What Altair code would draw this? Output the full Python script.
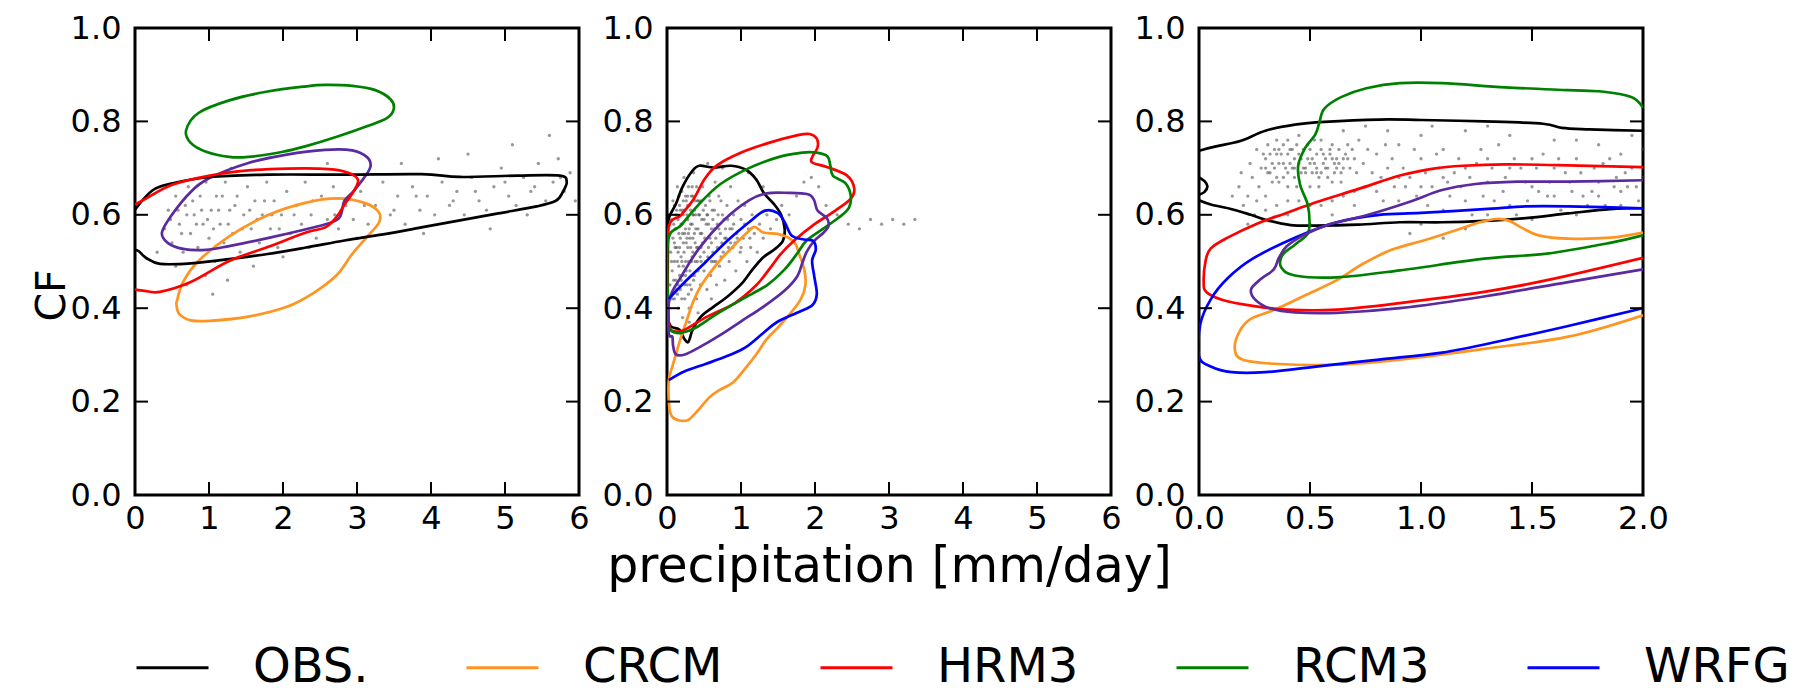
import altair as alt
import pandas as pd

# ---------------- categories / styling lists ----------------
MODELS = ["OBS.", "CRCM", "HRM3", "RCM3", "WRFG", "MM5I"]
COLORS = ["#000000", "#ff9420", "#ff0000", "#008000", "#0000ff", "#5a2a9e"]
LEGEND_MODELS = ["OBS.", "CRCM", "HRM3", "RCM3", "WRFG"]

Y_TICKS = [0.0, 0.2, 0.4, 0.6, 0.8, 1.0]
X_TICKS_A = [0, 1, 2, 3, 4, 5, 6]
X_TICKS_B = [0.0, 0.5, 1.0, 1.5, 2.0]

# ---------------- panel 1 contours ----------------
P1_OBS_X = [0, 0.234, 0.494, 1.013, 1.792, 2.831, 3.870, 4.390, 5.169, 5.740, 5.834, 5.782, 5.688, 5.429, 4.909, 4.390, 3.870, 3.351, 2.831, 2.312, 1.792, 1.273, 0.753, 0.338, 0.156, 0.052, 0]
P1_OBS_Y = [0.611, 0.652, 0.667, 0.681, 0.686, 0.686, 0.687, 0.681, 0.684, 0.684, 0.671, 0.649, 0.630, 0.618, 0.603, 0.588, 0.573, 0.558, 0.545, 0.530, 0.516, 0.505, 0.496, 0.495, 0.507, 0.522, 0.525]
P1_CRCM_X = [0.571, 0.649, 0.857, 1.273, 1.792, 2.312, 2.727, 3.091, 3.288, 3.299, 3.143, 2.935, 2.727, 2.416, 2.052, 1.532, 1.013, 0.753, 0.597, 0.561]
P1_CRCM_Y = [0.418, 0.456, 0.501, 0.554, 0.599, 0.626, 0.635, 0.626, 0.607, 0.584, 0.554, 0.516, 0.471, 0.433, 0.403, 0.382, 0.373, 0.374, 0.388, 0.407]
P1_HRM3_X = [0, 0.13, 0.494, 1.013, 1.532, 2.052, 2.623, 2.883, 3.013, 2.961, 2.831, 2.727, 2.571, 2.312, 1.792, 1.273, 0.753, 0.338, 0.13, 0]
P1_HRM3_Y = [0.622, 0.633, 0.664, 0.684, 0.695, 0.699, 0.698, 0.69, 0.675, 0.652, 0.622, 0.596, 0.573, 0.562, 0.531, 0.501, 0.456, 0.435, 0.437, 0.44]
P1_RCM3_X = [0.691, 0.857, 1.273, 1.792, 2.312, 2.571, 2.935, 3.247, 3.455, 3.496, 3.403, 3.143, 2.727, 2.312, 2.0, 1.532, 1.273, 0.961, 0.753]
P1_RCM3_Y = [0.781, 0.818, 0.845, 0.864, 0.875, 0.878, 0.876, 0.867, 0.847, 0.826, 0.807, 0.790, 0.767, 0.747, 0.735, 0.724, 0.724, 0.735, 0.754]
P1_MM5I_X = [0.364, 0.494, 0.753, 1.013, 1.532, 2.052, 2.571, 2.935, 3.132, 3.184, 3.117, 2.961, 2.831, 2.795, 2.753, 2.623, 2.312, 1.792, 1.273, 0.961, 0.649, 0.442]
P1_MM5I_Y = [0.562, 0.599, 0.649, 0.679, 0.711, 0.729, 0.739, 0.738, 0.724, 0.705, 0.684, 0.652, 0.630, 0.607, 0.592, 0.582, 0.569, 0.550, 0.533, 0.525, 0.527, 0.540]

# ---------------- panel 2 contours ----------------
P2_OBS_X = [0.024, 0.120, 0.202, 0.328, 0.434, 0.627, 0.867, 1.060, 1.205, 1.311, 1.446, 1.542, 1.590, 1.566, 1.446, 1.301, 1.157, 1.012, 0.819, 0.627, 0.458, 0.347, 0.289, 0.231, 0.169, 0.048, 0.014, 0.010, 0.014]
P2_OBS_Y = [0.593, 0.623, 0.657, 0.691, 0.705, 0.701, 0.705, 0.697, 0.676, 0.646, 0.623, 0.600, 0.570, 0.544, 0.525, 0.509, 0.483, 0.453, 0.425, 0.403, 0.382, 0.354, 0.328, 0.335, 0.354, 0.362, 0.388, 0.472, 0.562]
P2_CRCM_X = [1.181, 1.301, 1.494, 1.639, 1.735, 1.783, 1.855, 1.870, 1.807, 1.663, 1.494, 1.340, 1.205, 1.036, 0.892, 0.723, 0.578, 0.434, 0.289, 0.154, 0.063, 0.029, 0.024, 0.072, 0.120, 0.183, 0.265, 0.337, 0.434, 0.578, 0.747, 0.940, 1.084]
P2_CRCM_Y = [0.574, 0.562, 0.559, 0.551, 0.538, 0.517, 0.483, 0.449, 0.419, 0.388, 0.358, 0.332, 0.301, 0.267, 0.241, 0.226, 0.210, 0.184, 0.161, 0.160, 0.169, 0.192, 0.245, 0.275, 0.301, 0.335, 0.373, 0.407, 0.441, 0.475, 0.508, 0.540, 0.562]
P2_HRM3_X = [0.014, 0.193, 0.361, 0.506, 0.675, 1.012, 1.398, 1.783, 1.928, 2.024, 2.034, 1.966, 1.961, 2.169, 2.434, 2.530, 2.482, 2.265, 1.976, 1.735, 1.542, 1.398, 1.205, 0.916, 0.530, 0.241, 0.120, 0.039, 0.014]
P2_HRM3_Y = [0.566, 0.600, 0.634, 0.676, 0.706, 0.734, 0.755, 0.771, 0.773, 0.763, 0.744, 0.725, 0.712, 0.702, 0.684, 0.657, 0.634, 0.608, 0.578, 0.547, 0.517, 0.487, 0.449, 0.411, 0.381, 0.354, 0.350, 0.358, 0.40]
P2_RCM3_X = [0.014, 0.193, 0.434, 0.723, 1.108, 1.494, 1.831, 2.024, 2.169, 2.207, 2.241, 2.410, 2.482, 2.458, 2.313, 2.072, 1.880, 1.759, 1.590, 1.349, 1.012, 0.675, 0.386, 0.193, 0.072, 0.024, 0.014]
P2_RCM3_Y = [0.544, 0.578, 0.623, 0.666, 0.700, 0.723, 0.733, 0.733, 0.725, 0.706, 0.684, 0.668, 0.642, 0.615, 0.593, 0.566, 0.544, 0.517, 0.483, 0.449, 0.419, 0.388, 0.358, 0.347, 0.350, 0.362, 0.40]
P2_WRFG_X = [0.024, 0.241, 0.530, 0.819, 1.108, 1.325, 1.494, 1.590, 1.687, 1.855, 1.976, 2.010, 1.961, 1.990, 2.024, 1.966, 1.783, 1.494, 1.301, 1.060, 0.819, 0.530, 0.241, 0.024]
P2_WRFG_Y = [0.420, 0.456, 0.500, 0.545, 0.584, 0.609, 0.604, 0.584, 0.555, 0.547, 0.544, 0.525, 0.502, 0.468, 0.430, 0.407, 0.392, 0.371, 0.347, 0.316, 0.298, 0.281, 0.265, 0.246]
P2_MM5I_X = [0.034, 0.193, 0.434, 0.771, 1.108, 1.349, 1.639, 1.904, 1.986, 2.034, 2.159, 2.183, 2.111, 1.990, 1.889, 1.831, 1.759, 1.590, 1.301, 1.012, 0.723, 0.434, 0.241, 0.120, 0.082, 0.072, 0.024]
P2_MM5I_Y = [0.419, 0.468, 0.528, 0.589, 0.631, 0.646, 0.647, 0.644, 0.632, 0.609, 0.593, 0.576, 0.561, 0.544, 0.521, 0.498, 0.468, 0.438, 0.403, 0.373, 0.343, 0.316, 0.301, 0.301, 0.320, 0.339, 0.347]

# ---------------- panel 3 contours ----------------
P3_OBS_TOP_X = [0, 0.072, 0.186, 0.299, 0.432, 0.564, 0.811, 1.0, 1.284, 1.549, 1.634, 1.758, 2.0]
P3_OBS_TOP_Y = [0.737, 0.746, 0.758, 0.780, 0.793, 0.799, 0.804, 0.803, 0.800, 0.795, 0.786, 0.783, 0.780]
P3_OBS_BOT_X = [2.0, 1.852, 1.663, 1.473, 1.284, 1.095, 0.905, 0.716, 0.527, 0.413, 0.318, 0.233, 0.148, 0.053, 0]
P3_OBS_BOT_Y = [0.614, 0.612, 0.603, 0.593, 0.587, 0.584, 0.584, 0.579, 0.577, 0.578, 0.587, 0.600, 0.612, 0.622, 0.631]
P3_OBS_LOOP_X = [0, 0.025, 0.038, 0.025, 0]
P3_OBS_LOOP_Y = [0.680, 0.672, 0.661, 0.649, 0.643]
P3_CRCM_X = [2.0, 1.852, 1.663, 1.530, 1.455, 1.398, 1.341, 1.265, 1.170, 1.019, 0.867, 0.735, 0.621, 0.489, 0.337, 0.233, 0.182, 0.161, 0.195, 0.337, 0.621, 0.905, 1.284, 1.663, 2.0]
P3_CRCM_Y = [0.562, 0.551, 0.549, 0.556, 0.572, 0.587, 0.591, 0.584, 0.569, 0.546, 0.525, 0.494, 0.460, 0.430, 0.396, 0.377, 0.350, 0.313, 0.290, 0.281, 0.279, 0.290, 0.313, 0.339, 0.385]
P3_HRM3_X = [2.0, 1.663, 1.379, 1.189, 1.057, 0.905, 0.716, 0.527, 0.394, 0.261, 0.129, 0.053, 0.030, 0.021, 0.034, 0.110, 0.242, 0.394, 0.621, 0.905, 1.284, 1.568, 2.0]
P3_HRM3_Y = [0.702, 0.706, 0.708, 0.705, 0.699, 0.684, 0.655, 0.627, 0.604, 0.581, 0.551, 0.528, 0.502, 0.456, 0.434, 0.417, 0.405, 0.397, 0.397, 0.411, 0.435, 0.460, 0.508]
P3_RCM3_X = [2.0, 1.947, 1.814, 1.663, 1.379, 1.095, 0.905, 0.754, 0.640, 0.564, 0.542, 0.523, 0.479, 0.447, 0.455, 0.489, 0.498, 0.489, 0.432, 0.375, 0.371, 0.432, 0.621, 0.905, 1.284, 1.568, 1.852, 2.0]
P3_RCM3_Y = [0.829, 0.852, 0.864, 0.867, 0.873, 0.882, 0.882, 0.871, 0.852, 0.827, 0.797, 0.771, 0.744, 0.706, 0.665, 0.623, 0.585, 0.559, 0.536, 0.513, 0.487, 0.470, 0.466, 0.481, 0.506, 0.517, 0.540, 0.556]
P3_WRFG_X = [2.0, 1.663, 1.473, 1.284, 1.0, 0.811, 0.621, 0.432, 0.242, 0.129, 0.053, 0.006, 0, 0.053, 0.148, 0.299, 0.527, 0.811, 1.095, 1.379, 1.663, 2.0]
P3_WRFG_Y = [0.614, 0.618, 0.618, 0.612, 0.604, 0.600, 0.584, 0.551, 0.506, 0.464, 0.419, 0.366, 0.297, 0.275, 0.263, 0.263, 0.275, 0.290, 0.305, 0.332, 0.362, 0.400]
P3_MM5I_X = [2.0, 1.663, 1.436, 1.246, 1.095, 0.943, 0.754, 0.583, 0.470, 0.394, 0.360, 0.337, 0.280, 0.235, 0.252, 0.318, 0.432, 0.621, 0.905, 1.284, 1.663, 2.0]
P3_MM5I_Y = [0.674, 0.671, 0.671, 0.666, 0.653, 0.627, 0.599, 0.579, 0.556, 0.532, 0.508, 0.483, 0.463, 0.441, 0.419, 0.400, 0.391, 0.390, 0.400, 0.425, 0.456, 0.483]

# ---------------- observed scatter (read approximately) ----------------
SCAT1 = [(0.40,0.57),(0.45,0.61),(0.5,0.54),(0.55,0.64),(0.6,0.58),(0.65,0.52),(0.68,0.62),(0.72,0.66),(0.75,0.56),(0.8,0.6),(0.85,0.53),(0.88,0.64),(0.92,0.58),(0.96,0.67),(1.0,0.55),(1.03,0.61),(1.08,0.5),(1.1,0.64),(1.15,0.58),(1.2,0.54),(1.22,0.67),(1.28,0.61),(1.32,0.56),(1.38,0.64),(1.42,0.52),(1.47,0.6),(1.52,0.66),(1.57,0.57),(1.62,0.63),(1.68,0.54),(1.72,0.6),(1.78,0.67),(1.83,0.57),(1.88,0.63),(1.93,0.53),(1.98,0.6),(2.05,0.65),(2.1,0.56),(2.18,0.62),(2.25,0.58),(2.3,0.67),(2.38,0.6),(2.45,0.55),(2.52,0.64),(2.6,0.59),(2.68,0.66),(2.75,0.57),(2.85,0.62),(2.95,0.59),(3.05,0.65),(3.15,0.58),(3.25,0.62),(3.35,0.67),(3.45,0.6),(3.55,0.64),(3.65,0.58),(3.75,0.66),(3.85,0.61),(3.95,0.64),(4.05,0.6),(4.15,0.67),(4.25,0.62),(4.35,0.65),(4.45,0.6),(4.55,0.68),(4.65,0.63),(4.75,0.61),(4.85,0.66),(4.95,0.7),(5.05,0.64),(5.15,0.62),(5.25,0.68),(5.35,0.65),(5.45,0.71),(5.55,0.63),(5.65,0.67),(5.72,0.72),(5.8,0.65),(5.88,0.69),(5.95,0.63),(4.5,0.73),(4.1,0.72),(5.1,0.75),(3.6,0.71),(0.95,0.47),(1.25,0.46),(1.05,0.43),(1.6,0.49),(2.0,0.51),(2.35,0.53),(0.3,0.52),(0.55,0.49),(3.0,0.55),(1.3,0.7),(2.6,0.71),(5.6,0.77),(4.8,0.57),(5.3,0.6),(3.9,0.56),(0.7,0.45),
         (0.48,0.59),(0.58,0.61),(0.63,0.56),(0.7,0.6),(0.78,0.63),(0.83,0.58),(0.9,0.61),(0.98,0.59),(1.06,0.57),(1.13,0.61),(1.18,0.64),(1.26,0.58),(1.35,0.62),(1.45,0.57),(1.55,0.61),(1.65,0.59),(1.75,0.63),(1.85,0.6),(1.95,0.57),(2.15,0.6),(2.4,0.63),(2.7,0.6),(3.1,0.62),(3.5,0.61),(3.8,0.64),(4.3,0.63),(4.6,0.65),(5.0,0.67),(5.4,0.66),(5.75,0.68)]
SCAT2 = [(0.04,0.45),(0.05,0.52),(0.05,0.59),(0.07,0.48),(0.08,0.55),(0.08,0.63),(0.1,0.42),(0.1,0.5),(0.11,0.57),(0.12,0.46),(0.13,0.53),(0.13,0.61),(0.14,0.66),(0.15,0.4),(0.16,0.49),(0.16,0.56),(0.17,0.62),(0.18,0.44),(0.19,0.51),(0.19,0.58),(0.2,0.65),(0.21,0.38),(0.21,0.47),(0.22,0.54),(0.22,0.6),(0.23,0.68),(0.24,0.42),(0.25,0.5),(0.25,0.57),(0.26,0.63),(0.27,0.45),(0.28,0.53),(0.28,0.59),(0.29,0.66),(0.3,0.4),(0.31,0.48),(0.31,0.55),(0.32,0.61),(0.33,0.44),(0.34,0.51),(0.34,0.58),(0.35,0.64),(0.36,0.69),(0.37,0.47),(0.38,0.54),(0.39,0.6),(0.4,0.42),(0.41,0.5),(0.42,0.57),(0.43,0.63),(0.45,0.45),(0.46,0.53),(0.47,0.59),(0.48,0.66),(0.5,0.48),(0.51,0.55),(0.52,0.62),(0.54,0.44),(0.55,0.51),(0.56,0.58),(0.57,0.64),(0.59,0.47),(0.6,0.54),(0.61,0.61),(0.63,0.5),(0.64,0.57),(0.65,0.67),(0.67,0.45),(0.68,0.53),(0.69,0.6),(0.71,0.49),(0.72,0.56),(0.73,0.63),(0.76,0.52),(0.77,0.59),(0.78,0.46),(0.8,0.55),(0.81,0.62),(0.84,0.5),(0.85,0.57),(0.86,0.66),(0.89,0.53),(0.9,0.6),(0.93,0.48),(0.94,0.56),(0.96,0.63),(0.99,0.52),(1.0,0.59),(1.03,0.55),(1.05,0.62),(1.08,0.5),(1.1,0.57),(1.13,0.53),(1.15,0.6),(1.18,0.56),(1.22,0.52),(1.25,0.58),(1.3,0.55),(1.35,0.6),(1.4,0.57),(1.48,0.59),(1.55,0.62),(1.65,0.6),(1.75,0.64),(1.85,0.67),(1.95,0.68),(2.05,0.66),(2.15,0.62),(2.3,0.6),(2.45,0.58),(2.6,0.57),(2.75,0.59),(2.9,0.58),(3.05,0.59),(3.2,0.58),(3.35,0.59),(1.3,0.66),(1.1,0.69),(0.75,0.7),(0.55,0.71),(0.2,0.35),(0.3,0.37),(0.42,0.39),(0.6,0.42),(0.15,0.45),(0.25,0.47),(0.35,0.52),(0.45,0.56),(0.2,0.58),(0.3,0.62),(0.4,0.66),(0.12,0.6),(0.27,0.55),(0.37,0.61),
         (0.06,0.5),(0.09,0.58),(0.11,0.53),(0.14,0.5),(0.15,0.59),(0.17,0.53),(0.18,0.61),(0.2,0.5),(0.21,0.56),(0.23,0.52),(0.24,0.61),(0.26,0.54),(0.27,0.6),(0.29,0.5),(0.3,0.57),(0.32,0.53),(0.33,0.64),(0.35,0.55),(0.36,0.6),(0.38,0.5),(0.39,0.57),(0.41,0.63),(0.42,0.53),(0.44,0.6),(0.46,0.5),(0.47,0.56),(0.49,0.61),(0.5,0.52),(0.53,0.58),(0.55,0.6),(0.58,0.55),(0.6,0.5),(0.62,0.59),(0.66,0.55),(0.7,0.57),(0.74,0.54),(0.79,0.57),(0.83,0.53),(0.88,0.57),(0.92,0.54),(0.14,0.43),(0.19,0.46),(0.24,0.45),(0.29,0.43),(0.34,0.47),(0.1,0.62),(0.16,0.64),(0.22,0.63),(0.28,0.64),(0.34,0.66),
         (0.07,0.42),(0.09,0.46),(0.1,0.54),(0.12,0.57),(0.13,0.44),(0.15,0.52),(0.17,0.47),(0.18,0.55),(0.2,0.42),(0.21,0.61),(0.22,0.49),(0.24,0.56),(0.25,0.64),(0.26,0.48),(0.28,0.62),(0.29,0.56),(0.31,0.45),(0.32,0.58),(0.33,0.5),(0.35,0.6),(0.36,0.46),(0.37,0.56),(0.38,0.63),(0.4,0.53),(0.42,0.48),(0.43,0.6),(0.45,0.51),(0.46,0.63),(0.48,0.54),(0.5,0.59),(0.52,0.5),(0.54,0.6),(0.56,0.53),(0.58,0.63),(0.6,0.57),(0.62,0.52),(0.64,0.61),(0.66,0.5),(0.68,0.58),(0.7,0.64),(0.73,0.51),(0.75,0.6),(0.78,0.55),(0.82,0.59),(0.86,0.54),(0.9,0.58),(0.95,0.55),(1.0,0.53),(1.05,0.58),(1.12,0.55)]
SCAT3 = [(0.3,0.72),(0.32,0.69),(0.34,0.74),(0.36,0.71),(0.38,0.68),(0.4,0.73),(0.42,0.7),(0.44,0.75),(0.46,0.72),(0.48,0.69),(0.5,0.74),(0.52,0.71),(0.54,0.68),(0.56,0.73),(0.58,0.7),(0.6,0.75),(0.62,0.72),(0.64,0.69),(0.66,0.73),(0.68,0.7),(0.7,0.72),(0.35,0.76),(0.45,0.77),(0.55,0.76),(0.4,0.66),(0.5,0.66),(0.6,0.67),(0.28,0.7),(0.26,0.74),(0.24,0.68),(0.22,0.64),(0.2,0.62),(0.25,0.6),(0.3,0.64),(0.35,0.62),(0.45,0.63),(0.55,0.62),(0.65,0.64),(0.75,0.66),(0.72,0.76),(0.8,0.73),(0.85,0.7),(0.9,0.75),(0.95,0.68),(1.0,0.72),(1.05,0.66),(1.1,0.74),(1.15,0.69),(1.2,0.63),(1.25,0.71),(1.3,0.67),(1.35,0.75),(1.4,0.62),(1.45,0.7),(1.5,0.66),(1.55,0.73),(1.6,0.64),(1.65,0.69),(1.7,0.76),(1.75,0.62),(1.8,0.67),(1.85,0.72),(1.9,0.65),(1.95,0.7),(2.0,0.74),(0.8,0.6),(0.9,0.63),(1.0,0.58),(1.1,0.61),(1.2,0.57),(1.3,0.6),(1.5,0.59),(1.7,0.6),(1.9,0.62),(0.85,0.78),(1.0,0.77),(1.2,0.78),(1.4,0.77),(1.6,0.76),(1.8,0.75),(1.95,0.77),(0.7,0.62),(0.6,0.6),(0.5,0.58),(0.4,0.6),(0.95,0.56),(1.1,0.55),(0.78,0.69),(0.88,0.66),(0.98,0.64),(1.08,0.7),(1.18,0.66),(1.28,0.64),(1.38,0.68),(1.48,0.63),(1.58,0.67),(1.68,0.65),(1.78,0.7),(1.88,0.68),(1.98,0.63),(0.33,0.67),(0.43,0.68),(0.53,0.7),(0.63,0.71),(0.37,0.73),(0.47,0.74),(0.57,0.72),(0.67,0.75),(0.31,0.75),(0.41,0.71),(0.51,0.69),(0.61,0.69),(0.39,0.7),(0.49,0.72),(0.59,0.74),(0.29,0.73),(0.65,0.78),(0.75,0.79),(1.05,0.79),(1.3,0.79),(0.18,0.66),(0.22,0.58),(0.15,0.64),(0.33,0.71),(0.43,0.72),(0.53,0.73),(0.38,0.75),(0.48,0.7),(0.58,0.68),(0.36,0.67),(0.46,0.69),(0.56,0.71),(0.42,0.74),(0.52,0.76),(0.62,0.7),
         (0.74,0.71),(0.76,0.74),(0.82,0.68),(0.84,0.75),(0.87,0.72),(0.92,0.7),(0.97,0.74),(1.02,0.69),(1.07,0.73),(1.12,0.67),(1.17,0.72),(1.22,0.68),(1.27,0.74),(1.32,0.7),(1.37,0.65),(1.42,0.72),(1.47,0.67),(1.52,0.7),(1.57,0.64),(1.62,0.72),(1.67,0.67),(1.72,0.69),(1.77,0.65),(1.82,0.71),(1.87,0.66),(1.92,0.69),(1.97,0.66),(0.83,0.63),(0.93,0.66),(1.03,0.62),(1.13,0.64),(1.23,0.6),(1.33,0.63),(1.43,0.6),(1.53,0.65),(1.63,0.61),(1.73,0.64),(1.83,0.62),(1.93,0.66),(0.27,0.66),(0.23,0.71),(0.19,0.69),(0.31,0.69),(0.35,0.73),(0.45,0.71),(0.55,0.69),(0.65,0.72),(0.4,0.76),(0.5,0.71),(0.6,0.72),
         (0.3,0.7),(0.32,0.73),(0.34,0.7),(0.36,0.74),(0.38,0.71),(0.4,0.69),(0.41,0.74),(0.43,0.7),(0.45,0.73),(0.47,0.7),(0.49,0.75),(0.51,0.72),(0.53,0.69),(0.55,0.74),(0.57,0.7),(0.59,0.73),(0.61,0.71),(0.63,0.74),(0.65,0.7),(0.67,0.72),(0.69,0.74),(0.71,0.69),(0.35,0.68),(0.44,0.66),(0.54,0.66),(0.64,0.67),(0.26,0.63),(0.3,0.61),(0.4,0.63),(0.5,0.62),(0.6,0.63),(0.7,0.65),(0.8,0.65),(0.9,0.68),(1.0,0.66),(1.1,0.68),(1.2,0.7),(1.3,0.72),(1.4,0.7),(1.5,0.72),(1.6,0.7),(1.7,0.72),(1.8,0.64),(1.9,0.73),(2.0,0.68)]

# (panel, model, path id, closed?, xs, ys)
CONTOURS = [
    (1, "OBS.", "p1obs", False, P1_OBS_X, P1_OBS_Y),
    (1, "CRCM", "p1crcm", True, P1_CRCM_X, P1_CRCM_Y),
    (1, "HRM3", "p1hrm3", False, P1_HRM3_X, P1_HRM3_Y),
    (1, "RCM3", "p1rcm3", True, P1_RCM3_X, P1_RCM3_Y),
    (1, "MM5I", "p1mm5i", True, P1_MM5I_X, P1_MM5I_Y),
    (2, "OBS.", "p2obs", True, P2_OBS_X, P2_OBS_Y),
    (2, "CRCM", "p2crcm", True, P2_CRCM_X, P2_CRCM_Y),
    (2, "HRM3", "p2hrm3", True, P2_HRM3_X, P2_HRM3_Y),
    (2, "RCM3", "p2rcm3", True, P2_RCM3_X, P2_RCM3_Y),
    (2, "WRFG", "p2wrfg", False, P2_WRFG_X, P2_WRFG_Y),
    (2, "MM5I", "p2mm5i", True, P2_MM5I_X, P2_MM5I_Y),
    (3, "OBS.", "p3obs_t", False, P3_OBS_TOP_X, P3_OBS_TOP_Y),
    (3, "OBS.", "p3obs_b", False, P3_OBS_BOT_X, P3_OBS_BOT_Y),
    (3, "OBS.", "p3obs_l", False, P3_OBS_LOOP_X, P3_OBS_LOOP_Y),
    (3, "CRCM", "p3crcm", False, P3_CRCM_X, P3_CRCM_Y),
    (3, "HRM3", "p3hrm3", False, P3_HRM3_X, P3_HRM3_Y),
    (3, "RCM3", "p3rcm3", False, P3_RCM3_X, P3_RCM3_Y),
    (3, "WRFG", "p3wrfg", False, P3_WRFG_X, P3_WRFG_Y),
    (3, "MM5I", "p3mm5i", False, P3_MM5I_X, P3_MM5I_Y),
]

W, H = 444, 467
TICK = 13
FONT = "DejaVu Sans"


def contour_frame(panel):
    rows = []
    for pnl, model, pid, closed, xs, ys in CONTOURS:
        if pnl != panel:
            continue
        for i, (xv, yv) in enumerate(zip(xs, ys)):
            rows.append({"model": model, "path": pid, "closed": closed,
                         "order": i, "x": xv, "y": yv})
    return pd.DataFrame(rows)


LEGEND = alt.Legend(
    values=LEGEND_MODELS, orient="bottom", offset=37, padding=0,
    direction="horizontal", columns=5, title=None,
    symbolType="stroke", symbolSize=5184, symbolStrokeWidth=3,
    labelFont=FONT, labelFontSize=48, labelColor="black",
    labelOffset=43, columnPadding=91, labelLimit=600,
)


def make_panel(panel, xmax, xticks, xfmt, scat, ytitle=False, xtitle=False, with_legend=False):
    xs = alt.Scale(domain=[0, xmax], nice=False, zero=False)
    ys = alt.Scale(domain=[0, 1], nice=False, zero=False)
    xkw = dict(values=xticks, format=xfmt, labelFlush=False, labelOverlap=False,
               labelPadding=8, ticks=False, domain=False, grid=False)
    if xtitle:
        xkw.update(titleFontSize=49, titlePadding=8)
    ykw = dict(values=Y_TICKS, format=".1f", labelFlush=False, labelOverlap=False,
               labelPadding=14, ticks=False, domain=False, grid=False)
    if ytitle:
        ykw.update(titleFontSize=41, titleX=-71, titleY=267,
                   titleBaseline="alphabetic", titleAlign="center")
    X = alt.X("x:Q", scale=xs, axis=alt.Axis(**xkw),
              title="precipitation [mm/day]" if xtitle else "")
    Y = alt.Y("y:Q", scale=ys, axis=alt.Axis(**ykw), title="CF" if ytitle else "")

    sdf = pd.DataFrame({"x": [p[0] for p in scat], "y": [p[1] for p in scat]})
    pts = alt.Chart(sdf).mark_circle(size=11, color="#444444", opacity=0.55).encode(x=X, y=Y)

    cdf = contour_frame(panel)
    col_leg = alt.Color("model:N", scale=alt.Scale(domain=MODELS, range=COLORS),
                        legend=LEGEND if with_legend else None)
    col_noleg = alt.Color("model:N", scale=alt.Scale(domain=MODELS, range=COLORS), legend=None)
    closed_l = (alt.Chart(cdf).transform_filter("datum.closed")
                .mark_line(interpolate="cardinal-closed", strokeWidth=2.7, clip=True)
                .encode(x=X, y=Y, color=col_leg, detail="path:N", order="order:Q"))
    open_l = (alt.Chart(cdf).transform_filter("!datum.closed")
              .mark_line(interpolate="cardinal", strokeWidth=2.7, clip=True)
              .encode(x=X, y=Y, color=col_noleg, detail="path:N", order="order:Q"))

    # inward tick marks on all four sides (same fields / axes as the data layers)
    ydf = pd.DataFrame({"y": Y_TICKS})
    xdf = pd.DataFrame({"x": xticks})
    rule = dict(color="black", strokeWidth=2)
    rl = alt.Chart(ydf).mark_rule(**rule).encode(y=Y, x=alt.value(0), x2=alt.value(TICK))
    rr = alt.Chart(ydf).mark_rule(**rule).encode(y=Y, x=alt.value(W - TICK), x2=alt.value(W))
    rb = alt.Chart(xdf).mark_rule(**rule).encode(x=X, y=alt.value(H - TICK), y2=alt.value(H))
    rt = alt.Chart(xdf).mark_rule(**rule).encode(x=X, y=alt.value(0), y2=alt.value(TICK))

    return alt.layer(pts, closed_l, open_l, rl, rr, rb, rt).properties(width=W, height=H)


p1 = make_panel(1, 6, X_TICKS_A, "d", SCAT1, ytitle=True, with_legend=True)
p2 = make_panel(2, 6, X_TICKS_A, "d", SCAT2, xtitle=True)
p3 = make_panel(3, 2, X_TICKS_B, ".1f", SCAT3)

chart = (
    alt.hconcat(p1, p2, p3, spacing=88, bounds="flush")
    .properties(padding={"left": 21, "top": 2, "right": 5, "bottom": 0})
    .configure_view(stroke="black", strokeWidth=3)
    .configure_axis(labelFont=FONT, labelFontSize=32, labelColor="black",
                    titleFont=FONT, titleColor="black", titleFontWeight="normal")
)

chart.save("out.html", embed_options={"renderer": "svg", "actions": False})
